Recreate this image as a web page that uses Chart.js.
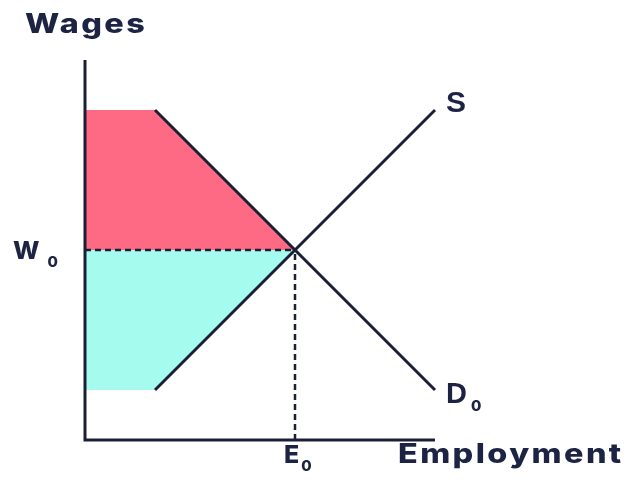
<!DOCTYPE html>
<html>
<head>
<meta charset="utf-8">
<script src="https://cdn.jsdelivr.net/npm/chart.js@4.4.1/dist/chart.umd.min.js"></script>
<style>
  html, body { margin: 0; padding: 0; background: #ffffff; }
  #wrap { width: 628px; height: 496px; position: relative; }
</style>
</head>
<body>
<div id="wrap"><canvas id="chart"></canvas></div>
<script>
// Labour market diagram values (arbitrary units)
const axisMaxX = 35;
const axisMaxY = 38;
const wageLevel = 19;        // W0
const employmentLevel = 21;  // E0
const demandX = [7, 21, 35];
const demandY = [33, 19, 5];
const supplyX = [7, 21, 35];
const supplyY = [5, 19, 33];
const surplusTopY = 33;      // top edge of pink area
const surplusBottomY = 5;    // bottom edge of cyan area
const kinkX = 7;

const ink = '#1b1f36';
const textInk = '#1d2342';
const pink = '#fe6a83';
const cyan = '#a5fcee';
const fontFamily = 'Inter, "DejaVu Sans", sans-serif';

const toPoints = (xs, ys) => xs.map((x, i) => ({ x: x, y: ys[i] }));

const labelPlugin = {
  id: 'labels',
  afterDatasetsDraw(chart) {
    const ctx = chart.ctx;
    const xs = chart.scales.x, ys = chart.scales.y;
    ctx.save();
    ctx.fillStyle = textInk;
    ctx.textBaseline = 'alphabetic';
    ctx.textAlign = 'left';

    // axis titles, widened a bit to look like the geometric face in the original
    const wide = (text, x, y) => {
      ctx.save();
      ctx.font = '800 27px ' + fontFamily;
      ctx.letterSpacing = '2px';
      ctx.translate(x, y);
      ctx.scale(1.2, 1);
      ctx.fillText(text, 0, 0);
      ctx.restore();
    };
    wide('Wages', 25, 33);
    wide('Employment', 398, 463);

    // letter with subscript 0
    const sub = (main, x, y, size, subSize, gap, fam, weight) => {
      ctx.letterSpacing = '0px';
      ctx.font = (weight || '800') + ' ' + size + 'px ' + (fam || fontFamily);
      ctx.fillText(main, x, y);
      const w = ctx.measureText(main).width;
      ctx.font = '800 ' + subSize + 'px ' + fontFamily;
      ctx.fillText('0', x + w + gap, y + subSize * 0.55);
    };
    sub('W', 13, ys.getPixelForValue(wageLevel) + 9, 25, 15, 8);
    sub('E', xs.getPixelForValue(employmentLevel) - 11, 463, 25, 15, 2);

    // curve labels
    const arial = '"Liberation Sans", Arial, sans-serif';
    ctx.letterSpacing = '0px';
    ctx.font = 'bold 30px ' + arial;
    ctx.fillText('S', xs.getPixelForValue(supplyX[supplyX.length - 1]) + 11, ys.getPixelForValue(supplyY[supplyY.length - 1]) + 2);
    sub('D', xs.getPixelForValue(demandX[demandX.length - 1]) + 11, ys.getPixelForValue(demandY[demandY.length - 1]) + 13, 29, 15, 4, arial, 'bold');
    ctx.restore();
  }
};

const lineDs = (data, extra) => Object.assign({
  data: data,
  showLine: true,
  borderColor: ink,
  borderWidth: 3,
  pointRadius: 0,
  fill: false,
  clip: false,
  tension: 0,
  order: 0
}, extra);

new Chart(document.getElementById('chart'), {
  type: 'scatter',
  data: {
    datasets: [
      lineDs(toPoints([0, kinkX, employmentLevel], [surplusTopY, surplusTopY, wageLevel]),
        { borderWidth: 0, backgroundColor: pink, fill: { value: wageLevel }, order: 5 }),
      lineDs(toPoints([0, kinkX, employmentLevel], [surplusBottomY, surplusBottomY, wageLevel]),
        { borderWidth: 0, backgroundColor: cyan, fill: { value: wageLevel }, order: 5 }),
      lineDs(toPoints([0, employmentLevel], [wageLevel, wageLevel]), { borderDash: [6, 4], borderWidth: 2.5, order: 2 }),
      lineDs(toPoints([employmentLevel, employmentLevel], [0, wageLevel]), { borderDash: [6, 4], borderWidth: 2.5, order: 2 }),
      lineDs(toPoints(demandX, demandY), { order: 1 }),
      lineDs(toPoints(supplyX, supplyY), { order: 1 }),
      lineDs(toPoints([0, 0, axisMaxX], [axisMaxY, 0, 0]), { borderJoinStyle: 'miter', order: 0 })
    ]
  },
  options: {
    responsive: true,
    maintainAspectRatio: false,
    animation: false,
    layout: { padding: { left: 85, top: 60, right: 193, bottom: 56 } },
    scales: {
      x: { type: 'linear', display: false, min: 0, max: axisMaxX },
      y: { type: 'linear', display: false, min: 0, max: axisMaxY }
    },
    plugins: {
      legend: { display: false },
      tooltip: { enabled: false }
    }
  },
  plugins: [labelPlugin]
});
</script>
</body>
</html>
